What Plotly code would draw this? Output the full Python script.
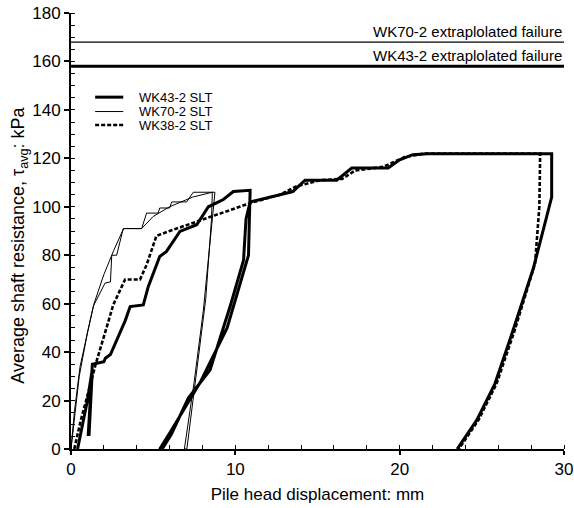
import plotly.graph_objects as go

# WK43-2 SLT (thick solid)
wk43_x = [0.4, 0.7, 1.0, 1.3, 1.1, 1.05, 1.3, 2.0, 2.09, 2.4, 3.3, 3.6, 4.4, 4.7, 5.4, 5.8, 6.63, 7.65, 8.36,
          9.27, 9.88, 10.9, 10.8, 9.5, 7.9, 6.0, 5.4, 5.55, 6.1, 7.14, 8.46, 9.68, 10.5, 10.65, 10.9, 12.72,
          13.5, 14.24, 16.17, 17.08, 19.3, 20.0, 20.8, 21.7, 29.25, 29.25, 28.14, 26.9, 25.8, 24.7, 23.5]
wk43_y = [0, 10, 20, 33, 6, 6, 35, 36, 37.5, 39, 53, 58.8, 59.5, 67, 79.5, 81.5, 89.8, 92.6, 100,
          103, 106.3, 106.8, 80, 50, 28, 6.5, 0, 0, 6, 21, 32.6, 58.8, 78, 95, 102, 105,
          106.3, 111, 111, 116, 116, 119.4, 121.5, 121.9, 121.9, 104, 74.7, 49, 27, 12, 0]

# WK70-2 SLT (thin solid)
wk70_x = [0, 0.2, 0.55, 1.0, 1.36, 2.07, 2.4, 2.48, 2.78, 3.18, 4.3, 4.6, 5.3, 5.4, 6.0, 6.13, 7.04, 7.44,
          8.76, 8.6, 8.05, 7.5, 6.9, 7.05, 7.6, 8.2, 8.55, 8.6]
wk70_y = [0, 15, 34, 48, 59, 68.5, 69, 80, 80, 91, 91, 97.4, 97.4, 99.5, 99.5, 102, 102, 106,
          106, 95, 57, 28, 0, 0, 30, 62, 95, 106]
wk70b_x = [0, 0.5, 1.0, 1.4, 2.0, 2.6, 3.2, 4.3, 5.0, 6.0, 7.4, 8.6]
wk70b_y = [0, 30, 48, 60, 72, 82, 91, 91, 96, 100, 104, 106]

# WK38-2 SLT (dashed)
wk38_x = [0.2, 0.6, 1.0, 1.5, 2.29, 2.57, 3.29, 4.2, 4.6, 5.2, 6.0, 10.9, 12.72, 13.7, 15.2, 16.5, 17.3,
          19.0, 20.3, 21.5, 28.55, 28.5, 28.24, 27.0, 25.9, 24.8, 23.6]
wk38_y = [0, 12, 22, 35, 53, 59.5, 70, 70, 76, 88, 90, 101.5, 105, 108.4, 111, 111.5, 115,
          116.5, 120.5, 122, 122, 100, 76.7, 49, 27, 12, 0]

series_names = ["WK43-2 SLT", "WK70-2 SLT", "WK38-2 SLT"]

fail_labels = ["WK70-2 extraplolated failure", "WK43-2 extraplolated failure"]
fail_values = [168, 158]
fail_widths = [1.2, 3]

x_range = [0, 30]
y_range = [0, 180]
x_ticks = [0, 10, 20, 30]
y_ticks = list(range(0, 181, 20))

FAM = "Liberation Sans, Arial, sans-serif"
font = dict(family=FAM, size=17, color="black")

styles = [dict(color="black", width=3),
          dict(color="black", width=1),
          dict(color="black", width=2.6, dash="4px,2px")]

fig = go.Figure()

for lab, val, w in zip(fail_labels, fail_values, fail_widths):
    fig.add_trace(go.Scatter(x=x_range, y=[val, val], mode="lines",
                             line=dict(color="black", width=w), showlegend=False, hoverinfo="skip"))
    fig.add_annotation(x=30, y=val, text=lab, showarrow=False, xanchor="right", yanchor="bottom",
                       yshift=0, font=dict(family=FAM, size=15, color="black"))

fig.add_trace(go.Scatter(x=wk43_x, y=wk43_y, mode="lines", name=series_names[0], line=styles[0]))
fig.add_trace(go.Scatter(x=wk70_x, y=wk70_y, mode="lines", name=series_names[1], line=styles[1]))
fig.add_trace(go.Scatter(x=wk38_x, y=wk38_y, mode="lines", name=series_names[2], line=styles[2]))
fig.add_trace(go.Scatter(x=wk70b_x, y=wk70b_y, mode="lines", showlegend=False, line=styles[1]))

# compact legend drawn in paper coordinates (rows 13-14 px apart as in the reference)
leg_y = [0.807, 0.774, 0.743]
for name, st, ly in zip(series_names, styles, leg_y):
    fig.add_shape(type="line", xref="paper", yref="paper", x0=0.049, x1=0.106, y0=ly, y1=ly,
                  line=st)
    fig.add_annotation(xref="paper", yref="paper", x=0.134, y=ly, text=name, showarrow=False,
                       xanchor="left", yanchor="middle", font=dict(family=FAM, size=13, color="black"))

# y-axis title (placed like the reference, slightly below the axis centre)
fig.add_annotation(xref="paper", yref="paper", x=-0.104, y=0.468, xanchor="center", yanchor="middle",
                   text="Average shaft resistance, \u03c4<sub>avg</sub>: kPa", textangle=-90,
                   showarrow=False, font=dict(family=FAM, size=18, color="black"))

fig.update_layout(
    width=574, height=508,
    margin=dict(l=71, r=10, t=13, b=59),
    paper_bgcolor="white", plot_bgcolor="white",
    font=font,
    showlegend=False,
    xaxis=dict(range=x_range, tickvals=x_ticks, showgrid=False, zeroline=False, automargin=False,
               showline=True, linecolor="black", linewidth=2, ticks="outside", ticklen=4,
               tickwidth=2, tickcolor="black", tickfont=font,
               minor=dict(dtick=2, ticks="inside", ticklen=4, tickcolor="black", tickwidth=1),
               title=dict(text="Pile head displacement: mm", standoff=10, font=font)),
    yaxis=dict(range=y_range, tickvals=y_ticks, showgrid=False, zeroline=False, automargin=False,
               showline=True, linecolor="black", linewidth=2, ticks="outside", ticklen=5,
               tickwidth=2, tickcolor="black", tickfont=font,
               minor=dict(dtick=5, ticks="inside", ticklen=4, tickcolor="black", tickwidth=1)),
    xaxis2=dict(range=x_range, overlaying="x", anchor="y", side="bottom", tickvals=x_ticks,
                showticklabels=False, showgrid=False, zeroline=False, showline=False,
                ticks="inside", ticklen=6, tickwidth=2, tickcolor="black"),
    yaxis2=dict(range=y_range, overlaying="y", anchor="x", side="left", tickvals=y_ticks,
                showticklabels=False, showgrid=False, zeroline=False, showline=False,
                ticks="inside", ticklen=5, tickwidth=2, tickcolor="black"),
)

fig.write_html("out.html", config={"displayModeBar": False},
               post_script="document.body.style.margin='0';document.body.style.overflow='hidden';")
